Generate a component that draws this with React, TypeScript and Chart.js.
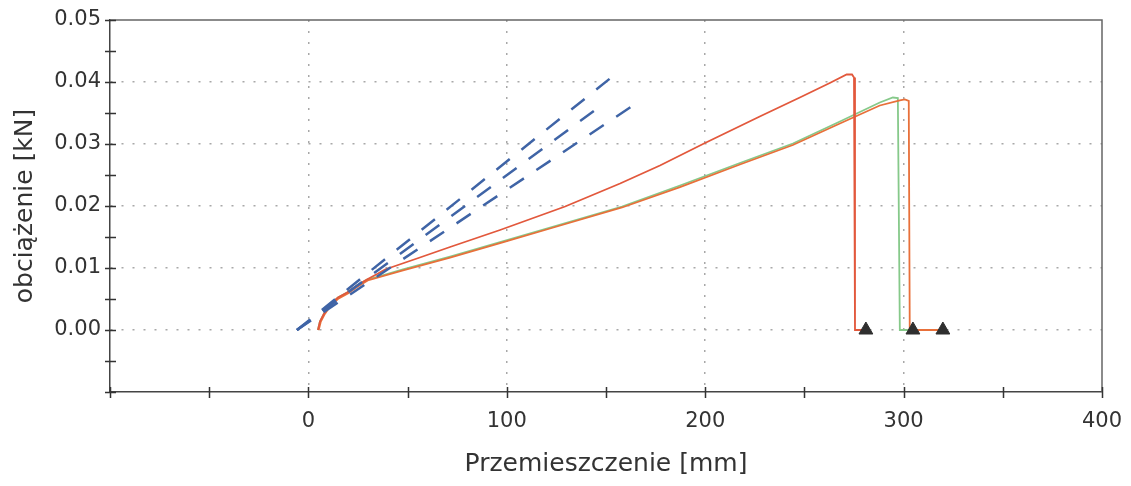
import React, { useEffect, useRef } from "react";
import { Chart, registerables } from "chart.js";

Chart.register(...registerables);

// ---- Data ----
// Specimen 1 (upper, red-orange)
const specimen1X = [4.8, 5.8, 7.9, 10.9, 14.9, 19.5, 24.5, 29.5, 35.1, 38.6, 56.2, 71.4, 96.6, 129.4, 157.1, 177.2, 199.4, 227.5, 247.7, 262.8, 271.3, 274.0, 275.0, 275.5, 281.0];
const specimen1Y = [0, 0.00137, 0.00266, 0.00411, 0.00524, 0.00605, 0.00718, 0.00815, 0.00911, 0.00976, 0.01169, 0.01339, 0.01613, 0.01992, 0.02363, 0.02653, 0.03008, 0.03444, 0.0375, 0.03984, 0.04121, 0.04121, 0.04073, 0, 0];

// Specimen 2 (green)
const specimen2X = [4.8, 5.8, 7.9, 10.9, 14.9, 19.5, 24.5, 29.5, 36.1, 47.7, 71.4, 96.6, 121.8, 158.1, 187.3, 217.5, 244.2, 267.9, 288.0, 294.6, 297.1, 298.1, 304.7];
const specimen2Y = [0, 0.00137, 0.00266, 0.00411, 0.00524, 0.00605, 0.00718, 0.00815, 0.00871, 0.00976, 0.01185, 0.01419, 0.01653, 0.01992, 0.02331, 0.02694, 0.03008, 0.03363, 0.0367, 0.0375, 0.03742, 0, 0];

// Specimen 3 (orange)
const specimen3X = [5.2, 6.2, 8.3, 11.3, 15.3, 19.9, 24.9, 29.9, 36.1, 47.7, 71.4, 96.6, 121.8, 158.1, 187.3, 217.5, 244.2, 267.9, 288.0, 298.1, 300.6, 302.6, 303.1, 319.8];
const specimen3Y = [0, 0.0013, 0.0026, 0.004, 0.0051, 0.0059, 0.007, 0.008, 0.00855, 0.0096, 0.01169, 0.01403, 0.01637, 0.01976, 0.02306, 0.02669, 0.02984, 0.03331, 0.03621, 0.03702, 0.03718, 0.03694, 0, 0];

// Initial-stiffness (tangent) lines, blue dashed
const tangent1X = [-5.8, 154.5];
const tangent1Y = [0, 0.0412];
const tangent2X = [-5.8, 146.9];
const tangent2Y = [0, 0.03605];
const tangent3X = [-5.8, 166.6];
const tangent3Y = [0, 0.03685];

// Break markers (triangles)
const breakX = [281.0, 304.7, 319.8];
const breakY = [0, 0, 0];

// Axes
const xMin = -100;
const xMax = 400;
const xStep = 50;
const yMin = -0.01;
const yMax = 0.05;
const yStep = 0.005;
const xTitle = "Przemieszczenie [mm]";
const yTitle = "obciążenie [kN]";

const pts = (xs: number[], ys: number[]) => xs.map((x, i) => ({ x, y: ys[i] }));

const FONT = "'DejaVu Sans', Verdana, sans-serif";

const isYMajor = (v: number) => Math.abs(v * 100 - Math.round(v * 100)) < 1e-6;
const isXMajor = (v: number) => Math.abs(v % 100) < 1e-6;

const framePlugin = {
  id: "frame",
  afterDraw(chart: any) {
    const { ctx, chartArea: a, scales } = chart;
    const xs = scales.x;
    const ys = scales.y;
    ctx.save();
    ctx.strokeStyle = "#666";
    ctx.lineWidth = 1.5;
    ctx.beginPath();
    ctx.moveTo(a.left, a.top);
    ctx.lineTo(a.right, a.top);
    ctx.lineTo(a.right, a.bottom);
    ctx.stroke();
    ctx.strokeStyle = "#333";
    ctx.lineWidth = 1.5;
    ctx.beginPath();
    for (const t of xs.ticks) {
      const px = Math.round(xs.getPixelForValue(t.value)) + 0.5;
      ctx.moveTo(px, a.bottom - 5);
      ctx.lineTo(px, a.bottom + 6);
    }
    for (const t of ys.ticks) {
      const py = Math.round(ys.getPixelForValue(t.value)) + 0.5;
      ctx.moveTo(a.left - 5, py);
      ctx.lineTo(a.left + 6, py);
    }
    ctx.stroke();
    ctx.restore();
  },
};

export default function App() {
  const ref = useRef<HTMLCanvasElement>(null);

  useEffect(() => {
    document.body.style.margin = "0";
    const canvas = ref.current!;
    const lineDs = (label: string, xs: number[], ys: number[], color: string, width: number, dash?: number[]) => ({
      label,
      data: pts(xs, ys),
      showLine: true,
      borderColor: color,
      backgroundColor: color,
      borderWidth: width,
      borderDash: dash || [],
      pointRadius: 0,
      tension: 0,
      fill: false,
    });

    const chart = new Chart(canvas, {
      type: "scatter",
      data: {
        datasets: [
          {
            label: "break",
            data: pts(breakX, breakY),
            showLine: false,
            pointStyle: "triangle",
            pointRadius: 8,
            pointBackgroundColor: "#2f2f2f",
            pointBorderColor: "#2f2f2f",
            pointBorderWidth: 1,
          } as any,
          lineDs("tangent 1", tangent1X, tangent1Y, "#3f64a6", 2.5, [17, 15]),
          lineDs("tangent 2", tangent2X, tangent2Y, "#3f64a6", 2.5, [17, 15]),
          lineDs("tangent 3", tangent3X, tangent3Y, "#3f64a6", 2.5, [17, 15]),
          lineDs("specimen 1", specimen1X, specimen1Y, "#e2583c", 1.8),
          lineDs("specimen 3", specimen3X, specimen3Y, "#e8703a", 1.8),
          lineDs("specimen 2", specimen2X, specimen2Y, "#86c98a", 1.8),
        ],
      },
      options: {
        animation: false,
        responsive: false,
        devicePixelRatio: 1,
        layout: { padding: { left: 0, top: 20, right: 29, bottom: 0 } },
        plugins: {
          legend: { display: false },
          tooltip: { enabled: false },
        },
        scales: {
          x: {
            type: "linear",
            min: xMin,
            max: xMax,
            ticks: {
              stepSize: xStep,
              autoSkip: false,
              maxRotation: 0,
              padding: 17,
              color: "#333",
              font: { family: FONT, size: 21 },
              callback: (v: any) => (v >= 0 && isXMajor(v) ? String(Math.round(v)) : ""),
            },
            grid: {
              drawTicks: false,
              lineWidth: 1.5,
              color: (c: any) => {
                const v = c.tick ? c.tick.value : NaN;
                return v >= 0 && v < xMax && isXMajor(v) ? "#a8a8a8" : "rgba(0,0,0,0)";
              },
            },
            border: { display: true, color: "#444", width: 1.5, dash: [2, 9] },
            title: {
              display: true,
              text: xTitle,
              color: "#333",
              font: { family: FONT, size: 25 },
              padding: { top: 0, bottom: 7 },
            },
            afterFit: (s: any) => {
              s.height = 94;
              s.paddingLeft = 0;
              s.paddingRight = 0;
            },
          } as any,
          y: {
            type: "linear",
            min: yMin,
            max: yMax,
            ticks: {
              stepSize: yStep,
              autoSkip: false,
              padding: 9,
              color: "#333",
              font: { family: FONT, size: 21 },
              callback: (v: any) => {
                if (v < -1e-9 || !isYMajor(v)) return "";
                const r = Math.round(v * 100) / 100;
                return Math.abs(r) < 1e-9 ? "0.00" : r.toFixed(2);
              },
            },
            grid: {
              drawTicks: false,
              lineWidth: 1.5,
              color: (c: any) => {
                const v = c.tick ? c.tick.value : NaN;
                return v > -1e-9 && v < yMax - 1e-9 && isYMajor(v) ? "#a8a8a8" : "rgba(0,0,0,0)";
              },
            },
            border: { display: true, color: "#444", width: 1.5, dash: [2, 9] },
            title: {
              display: true,
              text: yTitle,
              color: "#333",
              font: { family: FONT, size: 25 },
              padding: { top: 10, bottom: 0 },
            },
            afterFit: (s: any) => {
              s.width = 110;
              s.paddingTop = 0;
              s.paddingBottom = 0;
            },
          } as any,
        },
      },
      plugins: [framePlugin],
    } as any);

    return () => chart.destroy();
  }, []);

  return (
    <canvas
      ref={ref}
      width={1131}
      height={486}
      style={{ position: "fixed", left: 0, top: 0, width: 1131, height: 486, display: "block" }}
    />
  );
}
